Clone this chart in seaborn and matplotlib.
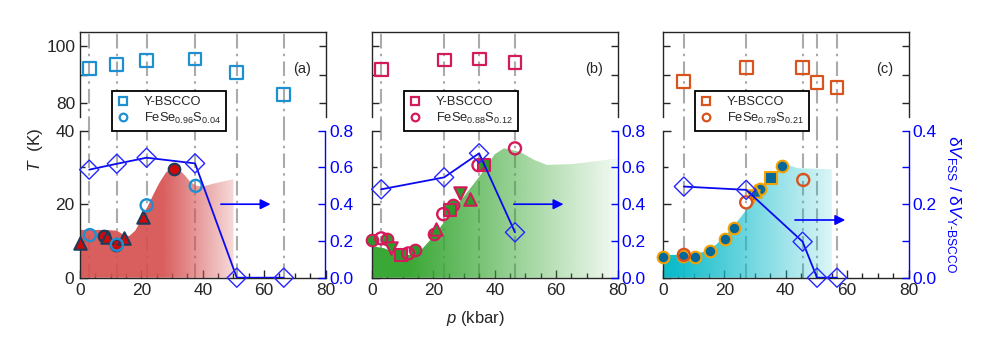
import numpy as np
import matplotlib
matplotlib.use('Agg')
import matplotlib.pyplot as plt
from matplotlib.lines import Line2D
from matplotlib.colors import to_rgb
import seaborn as sns

# ---------------- data ----------------
# panel (a)  FeSe0.96S0.04
ybscco_p_a = [3.0, 12.0, 21.7, 37.5, 51.1, 66.4]
ybscco_tc_a = [92.0, 93.5, 94.8, 95.5, 90.6, 82.8]
dv_ratio_a = [0.588, 0.620, 0.653, 0.622, 0.0, 0.0]
fss_p_a = [3.2, 12.0, 21.7, 37.7]
fss_tc_a = [11.6, 9.0, 19.7, 25.0]
lit_circ_p_a = [7.9, 11.7, 30.7]
lit_circ_tc_a = [11.4, 8.9, 29.5]
lit_tri_p_a = [0.0, 8.8, 14.4, 20.6]
lit_tri_tc_a = [9.4, 11.2, 10.7, 16.6]
env_p_a = [0, 4, 8, 12, 14, 16, 18, 20, 22, 24, 26, 28, 30, 32, 34, 36, 38, 40, 44, 50]
env_tc_a = [13, 13, 13, 12.8, 11.8, 11.3, 12.8, 15.8, 19.3, 22.8, 26.0, 28.6, 30.0, 29.6, 28.0, 26.0, 25.0, 24.8, 25.7, 26.8]

# panel (b)  FeSe0.88S0.12
ybscco_p_b = [3.0, 23.5, 34.9, 46.6]
ybscco_tc_b = [91.8, 95.1, 95.5, 94.1]
dv_ratio_b = [0.481, 0.546, 0.677, 0.247]
fss_p_b = [3.0, 11.8, 23.2, 34.7, 46.6]
fss_tc_b = [10.7, 6.6, 17.3, 30.6, 35.2]
lit_circ_p_b = [0.0, 4.9, 14.0, 20.2, 26.4]
lit_circ_tc_b = [10.3, 10.4, 7.5, 11.9, 19.8]
lit_dtri_p_b = [6.3, 28.7]
lit_dtri_tc_b = [8.0, 23.0]
lit_tri_p_b = [20.7, 31.9]
lit_tri_tc_b = [13.2, 21.5]
lit_sq_p_b = [9.3, 25.3, 36.5]
lit_sq_tc_b = [6.2, 18.4, 30.6]
env_p_b = [0, 4, 9, 13, 16, 20, 24, 29, 35, 40, 43, 48, 53, 57, 65, 72, 80]
env_tc_b = [8.6, 8.0, 6.2, 6.2, 7.5, 11.2, 15.7, 21.1, 27.5, 33.6, 35.2, 34.3, 32.0, 30.7, 30.9, 31.6, 32.5]

# panel (c)  FeSe0.79S0.21
ybscco_p_c = [6.8, 27.1, 45.5, 50.2, 56.7]
ybscco_tc_c = [87.6, 92.4, 92.4, 87.1, 85.5]
dv_ratio_c = [0.248, 0.239, 0.098, 0.0, 0.0]
fss_p_c = [6.8, 27.1, 45.7]
fss_tc_c = [6.2, 20.5, 26.6]
lit_circ_p_c = [0.0, 6.5, 10.4, 15.2, 20.3, 23.0, 31.5, 38.9]
lit_circ_tc_c = [5.7, 6.0, 5.5, 7.3, 10.4, 13.4, 24.1, 30.4]
lit_tri_p_c = [30.1]
lit_tri_tc_c = [23.7]
lit_dtri_p_c = [29.4]
lit_dtri_tc_c = [22.3]
lit_sq_p_c = [35.3]
lit_sq_tc_c = [27.2]
env_p_c = [0, 8.4, 13.9, 17.2, 20.5, 23.8, 27.1, 30.4, 34.7, 38.6, 41, 44, 55]
env_tc_c = [6.2, 6.2, 7.1, 8.9, 11.6, 14.8, 18.4, 22.0, 26.6, 30.2, 30.6, 29.8, 29.5]

sample_labels = [r'FeSe$_{0.96}$S$_{0.04}$', r'FeSe$_{0.88}$S$_{0.12}$', r'FeSe$_{0.79}$S$_{0.21}$']
panel_tags = ['(a)', '(b)', '(c)']
arrow_p = [(45, 63), (45.3, 63.3), (42.1, 60.3)]
arrow_tc = [20.0, 20.0, 15.7]

# ---------------- style ----------------
sns.set_style('ticks', {'xtick.direction': 'in', 'ytick.direction': 'in'})
plt.rcParams['font.family'] = ['Liberation Sans', 'DejaVu Sans']
plt.rcParams['mathtext.fontset'] = 'custom'
plt.rcParams['mathtext.rm'] = 'Liberation Sans'
plt.rcParams['mathtext.it'] = 'Liberation Sans:italic'
plt.rcParams['mathtext.default'] = 'regular'
plt.rcParams['axes.linewidth'] = 1.0

BLUE = '#0000ff'
VLINE = '#ababab'
TICK_FS = 12.5


def pts(ax, x, y, marker, s, fc, ec, lw=1.3, z=5):
    sns.scatterplot(x=x, y=y, ax=ax, marker=marker, s=s, facecolor=fc, edgecolor=ec,
                    linewidth=lw, zorder=z, clip_on=False, legend=False)


def gradient_fill(ax, px, ty, color, solid_until, fade_to, a0, a1):
    poly = ax.fill_between(px, ty, 0, color='none', lw=0)
    xs = np.linspace(0, 80, 500)
    frac = np.clip((xs - solid_until) / (fade_to - solid_until), 0, 1)
    rgba = np.zeros((1, len(xs), 4))
    rgba[..., :3] = to_rgb(color)
    rgba[0, :, 3] = a0 + (a1 - a0) * frac
    im = ax.imshow(rgba, extent=(0, 80, 0, 40), aspect='auto', origin='lower',
                   interpolation='bilinear', zorder=1)
    im.set_clip_path(poly.get_paths()[0], transform=ax.transData)


fig = plt.figure(figsize=(9.88, 3.46), dpi=100)

lefts = [80 / 988, 372 / 988, 663 / 988]
width = 245.5 / 988
top_rect_y, top_rect_h = 1 - 117 / 346, 85 / 346
bot_rect_y, bot_rect_h = 1 - 277.7 / 346, 147 / 346

panels = [
    dict(col='#1e90d2', fill='#d65050', sp=(27, 57, 0.92, 0.0),
         yb_p=ybscco_p_a, yb_tc=ybscco_tc_a, dv=dv_ratio_a, fp=fss_p_a, ft=fss_tc_a,
         ep=env_p_a, et=env_tc_a, lit_fc='#cc0a0a', lit_ec='#1c3c5c',
         lit=[('o', lit_circ_p_a, lit_circ_tc_a), ('^', lit_tri_p_a, lit_tri_tc_a)], dvmax=0.8),
    dict(col='#d41a5a', fill='#3aa835', sp=(12, 80, 1.0, 0.06),
         yb_p=ybscco_p_b, yb_tc=ybscco_tc_b, dv=dv_ratio_b, fp=fss_p_b, ft=fss_tc_b,
         ep=env_p_b, et=env_tc_b, lit_fc='#2a9a2a', lit_ec='#d41a5a',
         lit=[('o', lit_circ_p_b, lit_circ_tc_b), ('v', lit_dtri_p_b, lit_dtri_tc_b),
              ('^', lit_tri_p_b, lit_tri_tc_b), ('s', lit_sq_p_b, lit_sq_tc_b)], dvmax=0.8),
    dict(col='#d8541c', fill='#10bccb', sp=(4, 58, 1.0, 0.1),
         yb_p=ybscco_p_c, yb_tc=ybscco_tc_c, dv=dv_ratio_c, fp=fss_p_c, ft=fss_tc_c,
         ep=env_p_c, et=env_tc_c, lit_fc='#06679a', lit_ec='#f4a200',
         lit=[('o', lit_circ_p_c, lit_circ_tc_c), ('v', lit_dtri_p_c, lit_dtri_tc_c),
              ('^', lit_tri_p_c, lit_tri_tc_c), ('s', lit_sq_p_c, lit_sq_tc_c)], dvmax=0.4),
]

for i, pn in enumerate(panels):
    ax_t = fig.add_axes([lefts[i], top_rect_y, width, top_rect_h])
    ax_b = fig.add_axes([lefts[i], bot_rect_y, width, bot_rect_h])
    tw = ax_b.twinx()

    # ---- top: Y-BSCCO Tc ----
    for p in pn['yb_p']:
        ax_t.axvline(p, ymin=-0.17, ymax=1, color=VLINE, lw=1.5, clip_on=False,
                     ls=(0, (7, 2.5, 1.2, 2.5)), zorder=0)
        ax_b.axvline(p, color=VLINE, lw=1.5, ls=(0, (7, 2.5, 1.2, 2.5)), zorder=0.5)
    pts(ax_t, pn['yb_p'], pn['yb_tc'], 's', 85, 'none', pn['col'], lw=1.6)
    ax_t.set_xlim(0, 80)
    ax_t.set_ylim(75, 105)
    ax_t.set_yticks([80, 90, 100])
    ax_t.set_yticklabels(['80', '', '100'] if i == 0 else ['', '', ''])
    ax_t.tick_params(axis='y', left=True, right=True, length=5, width=1, labelsize=TICK_FS)
    ax_t.tick_params(axis='x', bottom=False, labelbottom=False)
    ax_t.spines['bottom'].set_visible(False)
    ax_t.set_xlabel('')
    ax_t.set_ylabel('')
    ax_t.text(0.903, 0.568, panel_tags[i], transform=ax_t.transAxes, ha='center',
              va='center', fontsize=10.5)

    # ---- bottom: Tc of FeSe1-xSx ----
    gradient_fill(ax_b, pn['ep'], pn['et'], pn['fill'], *pn['sp'])
    for mk, px, ty in pn['lit']:
        pts(ax_b, px, ty, mk, 80 if mk in '^v' else 70, pn['lit_fc'], pn['lit_ec'], lw=1.5)
    pts(ax_b, pn['fp'], pn['ft'], 'o', 75, 'none', pn['col'], lw=1.7, z=6)
    ax_b.annotate('', xy=(arrow_p[i][1], arrow_tc[i]), xytext=(arrow_p[i][0], arrow_tc[i]),
                  arrowprops=dict(arrowstyle='-|>', color=BLUE, lw=1.2, mutation_scale=15),
                  zorder=7)
    ax_b.set_xlim(0, 80)
    ax_b.set_ylim(0, 40)
    ax_b.set_xticks([0, 20, 40, 60, 80])
    ax_b.set_xticks(np.arange(0, 81, 5), minor=True)
    ax_b.set_yticks([0, 20, 40])
    ax_b.set_yticks([10, 30], minor=True)
    if i > 0:
        ax_b.set_yticklabels([])
    ax_b.tick_params(which='major', length=6, width=1, labelsize=TICK_FS, pad=4)
    ax_b.tick_params(which='minor', length=3.5, width=1)
    ax_b.tick_params(axis='y', which='both', right=False)
    ax_b.spines['top'].set_visible(False)
    ax_b.spines['right'].set_visible(False)
    ax_b.set_xlabel('')
    ax_b.set_ylabel('')
    ax_b.set_facecolor('none')

    # ---- right axis: dV ratio ----
    sns.lineplot(x=pn['yb_p'], y=pn['dv'], ax=tw, color='#0a0af0', lw=1.3, sort=False,
                 estimator=None, zorder=6)
    pts(tw, pn['yb_p'], pn['dv'], 'D', 95, 'none', '#2525ff', lw=1.0, z=7)
    tw.set_ylim(0, pn['dvmax'])
    if pn['dvmax'] > 0.5:
        tw.set_yticks([0, 0.2, 0.4, 0.6, 0.8])
        tw.set_yticklabels(['0.0', '0.2', '0.4', '0.6', '0.8'])
    else:
        tw.set_yticks([0, 0.1, 0.2, 0.3, 0.4])
        tw.set_yticklabels(['0.0', '', '0.2', '', '0.4'])
    tw.tick_params(axis='y', colors=BLUE, length=5, width=1, labelsize=TICK_FS, pad=3)
    for s in ['top', 'left', 'bottom']:
        tw.spines[s].set_visible(False)
    tw.spines['right'].set_color(BLUE)
    tw.spines['right'].set_linewidth(1.0)
    tw.set_xlabel('')
    tw.set_ylabel('')
    tw.set_xlim(0, 80)

    # ---- legend ----
    handles = [Line2D([], [], ls='none', marker='s', ms=5.5, mfc='none', mec=pn['col'], mew=1.6),
               Line2D([], [], ls='none', marker='o', ms=5.5, mfc='none', mec=pn['col'], mew=1.6)]
    leg = fig.legend(handles, ['Y-BSCCO', sample_labels[i]], loc='upper left',
                     bbox_to_anchor=((lefts[i] * 988 + 31.7) / 988, 1 - 91 / 346),
                     frameon=True, fancybox=False, fontsize=9.3, handlelength=1.0,
                     handletextpad=1.1, borderpad=0.4, labelspacing=0.2, borderaxespad=0)
    leg.get_frame().set_edgecolor('black')
    leg.get_frame().set_linewidth(1.3)
    leg.get_frame().set_alpha(1)

fig.text(35 / 988, 1 - 150 / 346, r'$\mathit{T}$  (K)', rotation=90, ha='center', va='center',
         fontsize=12.5)
fig.text(475 / 988, 1 - 318 / 346, r'$\mathit{p}$ (kbar)', ha='center', va='center', fontsize=12)
fig.text(953 / 988, 1 - 204 / 346, r'$\delta \mathit{V}_{FSS}$ / $\delta \mathit{V}_{Y\text{-}BSCCO}$',
         rotation=270, ha='center', va='center', fontsize=12.5, color=BLUE)

fig.savefig('out.png', dpi=100)
